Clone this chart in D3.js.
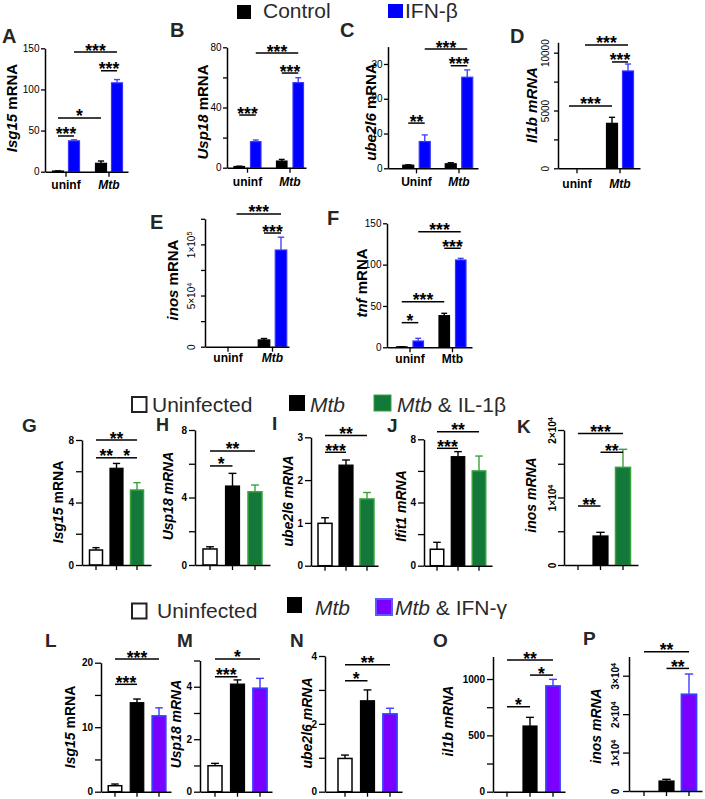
<!DOCTYPE html>
<html><head><meta charset="utf-8">
<script src="https://cdn.jsdelivr.net/npm/d3@7"></script>
<style>body{margin:0;background:#fff}</style>
</head><body>
<svg id="c" width="705" height="799"></svg>
<script>
// ---------------- DATA ----------------
const topGroups = ["uninf", "Mtb"];
const topGroupsC = ["Uninf", "Mtb"];
const topSeries = ["Control", "IFN-β"];
const triCats = ["Uninfected", "Mtb", "Mtb+cytokine"];

// Panel A (Isg15)
const A_control = [0.8, 10.2], A_controlErr = [0.2, 2.8];
const A_ifnb = [37.5, 108], A_ifnbErr = [1.3, 4];
const A_ticks = [0, 50, 100, 150];
const A_sig = [["***", [0,0], [0,1], 43.4], ["*", [0,0], [1,0], 65.3], ["***", [0,1], [1,1], 145.5], ["***", [1,0], [1,1], 122.7]];
// Panel B (Usp18)
const B_control = [0.8, 4.4], B_controlErr = [0.2, 1.1];
const B_ifnb = [17.3, 56.5], B_ifnbErr = [1.1, 3.3];
const B_ticks = [0, 40, 80], B_minor = [20, 60];
const B_sig = [["***", [0,0], [0,1], 35], ["***", [0,1], [1,1], 76.2], ["***", [1,0], [1,1], 62.9]];
// Panel C (ube2l6)
const C_control = [0.9, 1.3], C_controlErr = [0.1, 0.3];
const C_ifnb = [7.7, 26.2], C_ifnbErr = [1.9, 2.1];
const C_ticks = [0, 10, 20, 30];
const C_sig = [["**", [0,0], [0,1], 13], ["***", [0,1], [1,1], 34.3], ["***", [1,0], [1,1], 29.5]];
// Panel D (Il1b)
const D_control = [0, 3890], D_controlErr = [0, 520];
const D_ifnb = [0, 8420], D_ifnbErr = [0, 600];
const D_ticks = [0, 5000, 10000], D_minor = [2500, 7500];
const D_sig = [["***", [0,0], [1,0], 5390], ["***", [0,1], [1,1], 10670], ["***", [1,0], [1,1], 9200]];
// Panel E (inos)
const E_control = [0, 6600], E_controlErr = [0, 1400];
const E_ifnb = [0, 94500], E_ifnbErr = [0, 12500];
const E_ticks = [0, 50000, 100000], E_minor = [25000, 75000, 125000];
const E_labels = ["0", "5×10^4", "1×10^5"];
const E_sig = [["***", [0,1], [1,1], 129700], ["***", [1,0], [1,1], 111100]];
// Panel F (tnf)
const F_control = [0.6, 38.3], F_controlErr = [0.1, 2.8];
const F_ifnb = [7.6, 105.6], F_ifnbErr = [3.3, 2];
const F_ticks = [0, 50, 100, 150];
const F_sig = [["*", [0,0], [0,1], 29.8], ["***", [0,0], [1,0], 55.2], ["***", [0,1], [1,1], 139.8], ["***", [1,0], [1,1], 119.8]];

// Middle row: Uninfected / Mtb / Mtb & IL-1β
const G_mean = [0.96, 6.19, 4.8], G_err = [0.15, 0.31, 0.47];
const G_ticks = [0, 4, 8], G_minor = [2, 6];
const G_sig = [["**", 0, 2, 8.0], ["**", 0, 1, 6.86], ["*", 1, 2, 6.86]];
const H_mean = [0.95, 4.68, 4.34], H_err = [0.13, 0.75, 0.4];
const H_ticks = [0, 4, 8], H_minor = [2, 6];
const H_sig = [["*", 0, 1, 5.87], ["**", 0, 2, 6.76]];
const I_mean = [0.99, 2.35, 1.56], I_err = [0.13, 0.12, 0.15];
const I_ticks = [0, 1, 2, 3];
const I_sig = [["***", 0, 1, 2.65], ["**", 0, 2, 3.04]];
const J_mean = [1.04, 6.9, 6.0], J_err = [0.44, 0.32, 0.94];
const J_ticks = [0, 4, 8], J_minor = [2, 6];
const J_sig = [["***", 0, 1, 7.43], ["**", 0, 2, 8.48]];
const K_mean = [0, 4300, 14470], K_err = [0, 540, 2670];
const K_ticks = [0, 10000, 20000], K_minor = [5000, 15000];
const K_labels = ["0", "1×10^4", "2×10^4"];
const K_sig = [["**", 0, 1, 8740], ["***", 0, 2, 19500], ["**", 1, 2, 16700]];

// Bottom row: Uninfected / Mtb / Mtb & IFN-γ
const L_mean = [0.93, 13.8, 11.74], L_err = [0.26, 0.57, 1.26];
const L_ticks = [0, 10, 20], L_minor = [5, 15];
const L_sig = [["***", 0, 1, 16.65], ["***", 0, 2, 20.57]];
const M_mean = [0.99, 4.1, 3.94], M_err = [0.09, 0.16, 0.38];
const M_ticks = [0, 2, 4], M_minor = [1, 3, 5];
const M_sig = [["***", 0, 1, 4.38], ["*", 0, 2, 5.06]];
const N_mean = [0.98, 2.68, 2.29], N_err = [0.1, 0.32, 0.17];
const N_ticks = [0, 2, 4], N_minor = [1, 3];
const N_sig = [["*", 0, 1, 3.27], ["**", 0, 2, 3.74]];
const O_mean = [0, 583, 938], O_err = [0, 77, 59];
const O_ticks = [0, 500, 1000], O_minor = [250, 750];
const O_sig = [["*", 0, 1, 754], ["**", 0, 2, 1168], ["*", 1, 2, 1035]];
const P_mean = [0, 2600, 25150], P_err = [0, 440, 5290];
const P_ticks = [0, 10000, 20000, 30000];
const P_labels = ["0", "1×10^4", "2×10^4", "3×10^4"];
const P_sig = [["**", 0, 2, 36240], ["**", 1, 2, 31900]];

// ---------------- RENDER ----------------
const FONT = "'Liberation Sans', Arial, Helvetica, sans-serif";
const svg = d3.select("#c").attr("font-family", FONT);

const BLUE = "#0000ff", BLUE_EDGE = "#3535ff";
const GREEN = "#13793a", GREEN_EDGE = "#3ba23b";
const PURPLE = "#7a00ff", PURPLE_EDGE = "#3c3cff";
const STAR_FS = 17.5;

function supText(sel, s) {
  sel.text(null);
  const m = String(s).split("^");
  sel.append("tspan").text(m[0]);
  if (m[1]) sel.append("tspan").attr("dy", "-0.45em").attr("font-size", "0.72em").text(m[1]);
}

function letter(t, pos, fs) {
  svg.append("text").attr("x", pos[0]).attr("y", pos[1]).attr("font-size", fs)
    .attr("font-weight", "bold").attr("fill", "#262626").text(t);
}

function yLabel(parts, pos, fs) {
  const t = svg.append("text").attr("transform", `translate(${pos[0]},${pos[1]}) rotate(-90)`)
    .attr("text-anchor", "middle").attr("font-size", fs).attr("font-weight", "bold").attr("fill", "#000");
  parts.forEach(p => t.append("tspan").attr("font-style", p[1] ? "italic" : "normal").text(p[0]));
}

function yAxis(y, L, ticks, labels, minor, bold, fs, tsize, tpad) {
  const g = svg.append("g").attr("transform", `translate(${L.ax0},0)`)
    .call(d3.axisLeft(y).tickValues(ticks).tickSize(tsize).tickSizeOuter(0).tickPadding(tpad));
  g.attr("font-family", FONT).attr("font-size", fs);
  g.select(".domain").attr("stroke-width", 1.5);
  g.selectAll(".tick line").attr("stroke-width", 1.3);
  g.selectAll(".tick text").attr("font-weight", bold ? "bold" : "normal").attr("fill", "#000")
    .each(function (d, i) { supText(d3.select(this), labels ? labels[i] : String(d)); });
  if (L.rot) {
    g.selectAll(".tick text").attr("transform", "rotate(-90)").attr("x", 0).attr("y", -L.rot)
      .attr("dy", 0).attr("text-anchor", "middle");
  }
  if (minor) {
    const gm = svg.append("g").attr("transform", `translate(${L.ax0},0)`)
      .call(d3.axisLeft(y).tickValues(minor).tickSize(tsize).tickSizeOuter(0).tickFormat(""));
    gm.select(".domain").remove();
    gm.selectAll(".tick line").attr("stroke-width", 1.3);
  }
}

function xAxisLine(L) {
  const xl = d3.scaleLinear().domain([0, 1]).range([L.ax0, L.ax1]);
  const g = svg.append("g").attr("transform", `translate(0,${L.y0})`)
    .call(d3.axisBottom(xl).tickValues([]).tickSizeOuter(0));
  g.select(".domain").attr("stroke-width", 1.5);
}

function sigBracket(sym, x1, x2, yPix) {
  svg.append("line").attr("x1", x1).attr("x2", x2).attr("y1", yPix).attr("y2", yPix)
    .attr("stroke", "#000").attr("stroke-width", 1.5);
  svg.append("text").attr("x", (x1 + x2) / 2).attr("y", yPix + 4.5).attr("text-anchor", "middle")
    .attr("font-size", STAR_FS).attr("font-weight", "bold").attr("fill", "#000").text(sym);
}

function bar(x, w, y, v, e, style) {
  if (v <= 0) return;
  svg.append("rect").attr("x", x).attr("y", y(v)).attr("width", w).attr("height", y(0) - y(v))
    .attr("fill", style.fill).attr("stroke", style.stroke).attr("stroke-width", style.sw || 1.2);
  if (e > 0) {
    const cx = x + w / 2, cw = w * 0.28;
    svg.append("line").attr("x1", cx).attr("x2", cx).attr("y1", y(v)).attr("y2", y(v + e))
      .attr("stroke", style.err).attr("stroke-width", 1.4);
    svg.append("line").attr("x1", cx - cw).attr("x2", cx + cw).attr("y1", y(v + e)).attr("y2", y(v + e))
      .attr("stroke", style.err).attr("stroke-width", 1.4);
  }
}

const topStyles = [
  { fill: "#000", stroke: "#000", err: "#000" },
  { fill: BLUE, stroke: BLUE_EDGE, err: "#4545ff" }
];

function topPanel(id, L, groups, ctrl, ctrlErr, ifn, ifnErr, ticks, labels, minor, sig, ylab, italicMtb) {
  const y = d3.scaleLinear().domain([0, L.yMax]).range([L.y0, L.yTop]);
  const gs = L.g1 - L.g0;
  const xg = d3.scaleBand().domain(groups).range([L.g0 - gs / 2, L.g1 + gs / 2]);
  const p = 1 - L.w / L.d;
  const xs = d3.scaleBand().domain(topSeries).range([-L.d, L.d]).paddingInner(p).paddingOuter(p / 2);
  const center = (gi, si) => xg(groups[gi]) + xg.bandwidth() / 2 + xs(topSeries[si]) + xs.bandwidth() / 2;
  const series = [[ctrl, ctrlErr], [ifn, ifnErr]];
  series.forEach((s, si) => groups.forEach((g, gi) => {
    bar(xg(g) + xg.bandwidth() / 2 + xs(topSeries[si]), xs.bandwidth(), y, s[0][gi], s[1][gi], topStyles[si]);
  }));
  xAxisLine(L);
  const gx = svg.append("g").attr("transform", `translate(0,${L.y0})`)
    .call(d3.axisBottom(xg).tickSize(5).tickSizeOuter(0).tickFormat(""));
  gx.select(".domain").remove();
  gx.selectAll(".tick line").attr("stroke-width", 1.3);
  groups.forEach(g => {
    svg.append("text").attr("x", xg(g) + xg.bandwidth() / 2).attr("y", L.xlabY).attr("text-anchor", "middle")
      .attr("font-size", 12).attr("font-weight", "bold")
      .attr("font-style", (g === "Mtb" && italicMtb) ? "italic" : "normal").text(g);
  });
  yAxis(y, L, ticks, labels, minor, false, 10, 4, 1.5);
  sig.forEach(s => sigBracket(s[0], center(s[1][0], s[1][1]), center(s[2][0], s[2][1]), y(s[3])));
  yLabel(ylab, L.ylab, 15);
  letter(id, L.letter, 20);
}

function triPanel(id, L, mean, err, ticks, labels, minor, sig, ylab, thirdStyle) {
  const y = d3.scaleLinear().domain([0, L.yMax]).range([L.y0, L.yTop]);
  const step = (L.c2 - L.c0) / 2;
  const p = 1 - L.w / step;
  const x = d3.scaleBand().domain(triCats).range([L.c0 - step / 2, L.c2 + step / 2]).paddingInner(p).paddingOuter(p / 2);
  const styles = [
    { fill: "#fff", stroke: "#000", err: "#000", sw: 1.5 },
    { fill: "#000", stroke: "#000", err: "#000" },
    thirdStyle
  ];
  triCats.forEach((c, i) => bar(x(c), x.bandwidth(), y, mean[i], err[i], styles[i]));
  xAxisLine(L);
  const gx = svg.append("g").attr("transform", `translate(0,${L.y0})`)
    .call(d3.axisBottom(x).tickSize(5).tickSizeOuter(0).tickFormat(""));
  gx.select(".domain").remove();
  gx.selectAll(".tick line").attr("stroke-width", 1.3);
  yAxis(y, L, ticks, labels, minor, true, 10, 6, 2);
  const cx = i => x(triCats[i]) + x.bandwidth() / 2;
  sig.forEach(s => sigBracket(s[0], cx(s[1]), cx(s[2]), y(s[3])));
  yLabel(ylab, L.ylab, 14);
  letter(id, L.letter, L.lfs || 19);
}

// layout (pixel positions)
const LT = {
  A: { letter: [2, 43], ax0: 45, ax1: 128, g0: 66, g1: 109, d: 16, w: 11, y0: 171.7, yTop: 48.3, yMax: 150, ylab: [17, 108], xlabY: 189 },
  B: { letter: [170, 37], ax0: 227, ax1: 306, g0: 247.5, g1: 290, d: 16.5, w: 10.5, y0: 167.7, yTop: 47.3, yMax: 80, ylab: [208, 112], xlabY: 186 },
  C: { letter: [340, 37], ax0: 388, ax1: 478, g0: 416.5, g1: 459, d: 16.5, w: 11, y0: 168.3, yTop: 46.6, yMax: 35, ylab: [376, 112], xlabY: 186 },
  D: { letter: [510, 43], ax0: 558, ax1: 640, g0: 577, g1: 620, d: 16, w: 11, y0: 168.3, yTop: 42.3, yMax: 10900, ylab: [537, 105], xlabY: 188, rot: 9 },
  E: { letter: [150, 229], ax0: 205, ax1: 289, g0: 228, g1: 272.5, d: 17, w: 11.5, y0: 346.7, yTop: 218.8, yMax: 125000, ylab: [178, 280], xlabY: 362, rot: 10 },
  F: { letter: [327, 225], ax0: 387, ax1: 472, g0: 410, g1: 452.5, d: 16.5, w: 10.5, y0: 347.3, yTop: 223.3, yMax: 150, ylab: [367, 283], xlabY: 363 }
};
const LB = {
  G: { letter: [22, 432], ax0: 82, ax1: 151, c0: 96, c2: 137, w: 13, y0: 565, yTop: 440, yMax: 8, ylab: [63, 502] },
  H: { letter: [156, 431], lfs: 18, ax0: 195, ax1: 270, c0: 210, c2: 255, w: 14, y0: 565, yTop: 430, yMax: 8, ylab: [173, 496] },
  I: { letter: [272, 430], ax0: 311, ax1: 378, c0: 325, c2: 367, w: 14, y0: 565.7, yTop: 437.3, yMax: 3, ylab: [293, 501] },
  J: { letter: [387, 432], ax0: 424, ax1: 492, c0: 437, c2: 479, w: 13.5, y0: 565.7, yTop: 439.3, yMax: 8, ylab: [406, 506] },
  K: { letter: [517, 433], ax0: 564, ax1: 638, c0: 578, c2: 623, w: 15, y0: 565, yTop: 430, yMax: 20000, ylab: [536, 495], rot: 8 },
  L: { letter: [45, 647], ax0: 101, ax1: 171, c0: 115, c2: 159, w: 13.5, y0: 791.7, yTop: 662.7, yMax: 20, ylab: [75, 727] },
  M: { letter: [177, 647], ax0: 200, ax1: 272, c0: 215, c2: 260, w: 14, y0: 791.7, yTop: 660.5, yMax: 5, ylab: [181, 724] },
  N: { letter: [290, 647], ax0: 325, ax1: 402, c0: 345, c2: 390, w: 14, y0: 791.7, yTop: 656, yMax: 4, ylab: [312, 723] },
  O: { letter: [433, 647], ax0: 493, ax1: 565, c0: 507, c2: 553, w: 14, y0: 791.7, yTop: 656.5, yMax: 1200, ylab: [453, 721] },
  P: { letter: [583, 645], ax0: 629, ax1: 702, c0: 644, c2: 689, w: 15, y0: 791, yTop: 656.5, yMax: 35000, ylab: [601, 726], rot: 10 }
};

const mRNA = [" mRNA", 0];
topPanel("A", LT.A, topGroups, A_control, A_controlErr, A_ifnb, A_ifnbErr, A_ticks, null, null, A_sig, [["Isg15", 1], mRNA], true);
topPanel("B", LT.B, topGroups, B_control, B_controlErr, B_ifnb, B_ifnbErr, B_ticks, null, B_minor, B_sig, [["Usp18", 1], mRNA], true);
topPanel("C", LT.C, topGroupsC, C_control, C_controlErr, C_ifnb, C_ifnbErr, C_ticks, null, null, C_sig, [["ube2l6", 1], mRNA], true);
topPanel("D", LT.D, topGroups, D_control, D_controlErr, D_ifnb, D_ifnbErr, D_ticks, null, D_minor, D_sig, [["Il1b mRNA", 1]], true);
topPanel("E", LT.E, topGroups, E_control, E_controlErr, E_ifnb, E_ifnbErr, E_ticks, E_labels, E_minor, E_sig, [["inos", 1], mRNA], true);
topPanel("F", LT.F, topGroups, F_control, F_controlErr, F_ifnb, F_ifnbErr, F_ticks, null, null, F_sig, [["tnf", 1], mRNA], false);

const greenStyle = { fill: GREEN, stroke: GREEN_EDGE, err: GREEN_EDGE, sw: 1.5 };
const purpleStyle = { fill: PURPLE, stroke: PURPLE_EDGE, err: PURPLE_EDGE, sw: 1.8 };
triPanel("G", LB.G, G_mean, G_err, G_ticks, null, G_minor, G_sig, [["Isg15", 1], mRNA], greenStyle);
triPanel("H", LB.H, H_mean, H_err, H_ticks, null, H_minor, H_sig, [["Usp18 mRNA", 1]], greenStyle);
triPanel("I", LB.I, I_mean, I_err, I_ticks, null, null, I_sig, [["ube2l6 mRNA", 1]], greenStyle);
triPanel("J", LB.J, J_mean, J_err, J_ticks, null, J_minor, J_sig, [["Ifit1 mRNA", 1]], greenStyle);
triPanel("K", LB.K, K_mean, K_err, K_ticks, K_labels, K_minor, K_sig, [["inos mRNA", 1]], greenStyle);
triPanel("L", LB.L, L_mean, L_err, L_ticks, null, L_minor, L_sig, [["Isg15", 1], mRNA], purpleStyle);
triPanel("M", LB.M, M_mean, M_err, M_ticks, null, M_minor, M_sig, [["Usp18 mRNA", 1]], purpleStyle);
triPanel("N", LB.N, N_mean, N_err, N_ticks, null, N_minor, N_sig, [["ube2l6 mRNA", 1]], purpleStyle);
triPanel("O", LB.O, O_mean, O_err, O_ticks, null, O_minor, O_sig, [["il1b mRNA", 1]], purpleStyle);
triPanel("P", LB.P, P_mean, P_err, P_ticks, P_labels, null, P_sig, [["inos mRNA", 1]], purpleStyle);

// ---------------- LEGENDS ----------------
function legText(x, y, parts) {
  const t = svg.append("text").attr("x", x).attr("y", y).attr("font-size", 21).attr("fill", "#2a2a2a");
  parts.forEach(p => t.append("tspan").attr("font-style", p[1] ? "italic" : "normal").text(p[0]));
}
// top
svg.append("rect").attr("x", 237).attr("y", 5).attr("width", 14).attr("height", 14).attr("fill", "#000");
legText(263, 18, [[topSeries[0], 0]]);
svg.append("rect").attr("x", 388).attr("y", 4).attr("width", 15).attr("height", 14).attr("fill", BLUE);
legText(405, 18, [[topSeries[1], 0]]);
// middle
svg.append("rect").attr("x", 132).attr("y", 397).attr("width", 14.5).attr("height", 15).attr("fill", "#fff").attr("stroke", "#222").attr("stroke-width", 2);
legText(152, 412, [["Uninfected", 0]]);
svg.append("rect").attr("x", 289).attr("y", 395).attr("width", 16).attr("height", 16).attr("fill", "#000");
legText(310, 411.5, [["Mtb", 1]]);
svg.append("rect").attr("x", 374).attr("y", 395).attr("width", 17).attr("height", 16).attr("fill", GREEN).attr("stroke", GREEN_EDGE).attr("stroke-width", 1);
legText(397, 411.5, [["Mtb", 1], [" & IL-1β", 0]]);
// bottom
svg.append("rect").attr("x", 132).attr("y", 603.5).attr("width", 14.5).attr("height", 15).attr("fill", "#fff").attr("stroke", "#222").attr("stroke-width", 2);
legText(157, 618, [["Uninfected", 0]]);
svg.append("rect").attr("x", 287).attr("y", 597).attr("width", 15).attr("height", 16).attr("fill", "#000");
legText(315, 615, [["Mtb", 1]]);
svg.append("rect").attr("x", 376).attr("y", 599).attr("width", 16).attr("height", 16).attr("fill", PURPLE).attr("stroke", "#5a5aff").attr("stroke-width", 2);
legText(395, 615, [["Mtb", 1], [" & IFN-γ", 0]]);
</script>
</body></html>
